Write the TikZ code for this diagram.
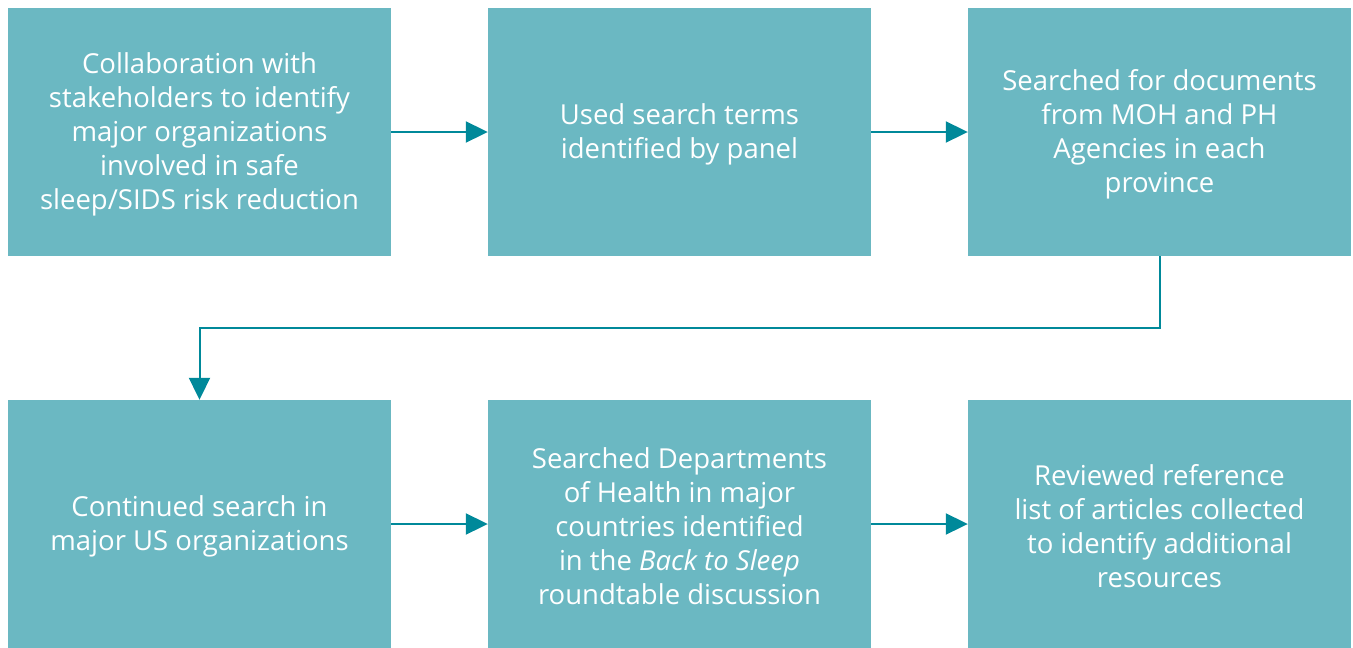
\documentclass[tikz,border=0pt]{standalone}
\usepackage{fontspec}
\setmainfont{Open Sans}
\usetikzlibrary{arrows.meta}
\definecolor{boxfill}{HTML}{6BB8C2}
\definecolor{linkteal}{HTML}{00899A}
\tikzset{
  stepbox/.style={fill=boxfill, draw=none, minimum width=383pt, minimum height=248pt,
    inner sep=0pt, text=white, align=center, text width=370pt,
    font=\fontsize{27.5}{34}\selectfont},
  steptext/.style={text=white, align=center, font=\fontsize{27.5}{34}\selectfont},
  link/.style={draw=linkteal, line width=2pt,
    -{Triangle[length=22pt,width=21pt]}}
}
\begin{document}
\begin{tikzpicture}[x=1pt,y=-1pt]
\useasboundingbox (0,0) rectangle (1353,648);
% the six step boxes
\node[stepbox] (b1) at (199.5,132) {};
\node[stepbox] (b2) at (679.5,132) {};
\node[stepbox] (b3) at (1159.5,132) {};
\node[stepbox] (b4) at (199.5,524) {};
\node[stepbox] (b5) at (679.5,524) {};
\node[stepbox] (b6) at (1159.5,524) {};
% their texts
\node[steptext] (t1) at (199.5,134) {Collaboration with\\stakeholders to identify\\major organizations\\involved in safe\\sleep/SIDS risk reduction};
\node[steptext] (t2) at (679.5,134) {Used search terms\\identified by panel};
\node[steptext] (t3) at (1159.5,134) {Searched for documents\\from MOH and PH\\Agencies in each\\province};
\node[steptext] (t4) at (199.5,526) {Continued search in\\major US organizations};
\node[steptext] (t5) at (679.5,526) {Searched Departments\\of Health in major\\countries identified\\in the \textit{Back to Sleep}\\roundtable discussion};
\node[steptext] (t6) at (1159.5,526) {Reviewed reference\\list of articles collected\\to identify additional\\resources};
% connectors
\draw[link] (b1) -- (b2);
\draw[link] (b2) -- (b3);
\draw[link] (b3.south) -- ++(0,72) -| (b4.north);
\draw[link] (b4) -- (b5);
\draw[link] (b5) -- (b6);
\end{tikzpicture}
\end{document}
